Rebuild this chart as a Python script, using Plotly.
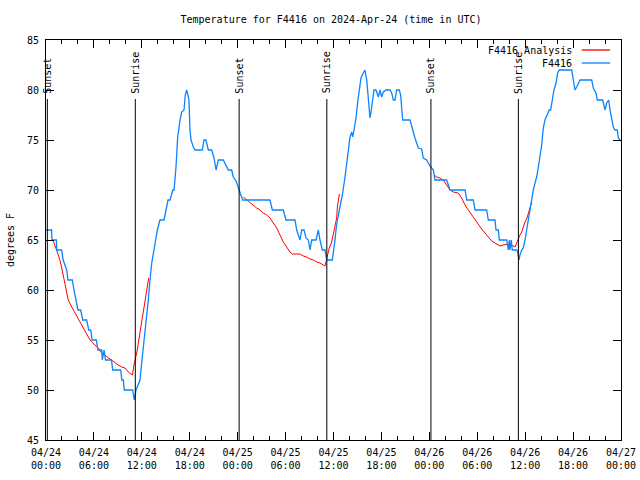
import pandas as pd
import plotly.graph_objects as go

# ---- data (hours since 2024-04-24 00:00 UTC, temperature F) ----
obs_hours = [0.0, 0.7, 0.75, 1.3, 1.35, 1.95, 2.15, 2.6, 2.75, 3.3, 3.5, 3.75, 4.0, 4.35, 4.6, 5.09,
             5.35, 5.6, 5.78, 6.3, 6.5, 6.98, 7.05, 7.27, 7.45, 8.2, 8.35, 9.35, 9.5, 9.68, 9.8, 10.85,
             11.06, 11.27, 11.77, 11.98, 12.31, 12.52, 12.81, 13.02, 13.24, 13.52, 13.94, 14.27, 14.78,
             15.03, 15.28, 15.53, 15.87, 16.03, 16.28, 16.49, 16.62, 16.78, 16.99, 17.28, 17.44, 17.62,
             17.74, 17.9, 18.03, 18.16, 18.45, 18.66, 19.57, 19.78, 20.03, 20.32, 20.75, 20.87, 21.04,
             21.29, 21.58, 22.2, 22.54, 22.83, 23.25, 23.45, 23.79, 24.08, 24.38, 24.63, 28.05, 28.34,
             29.71, 30.05, 31.18, 31.39, 31.59, 31.8, 32.02, 32.31, 32.56, 32.85, 33.06, 33.27, 33.81,
             34.1, 34.31, 34.6, 34.94, 35.15, 35.85, 35.98, 36.19, 36.31, 36.48, 36.81, 37.15, 37.44,
             37.65, 37.85, 38.07, 38.28, 38.4, 38.57, 38.82, 39.03, 39.23, 39.44, 39.73, 39.94, 40.16,
             40.36, 40.57, 40.7, 40.91, 41.07, 41.32, 41.61, 41.82, 42.03, 42.24, 42.57, 43.07, 43.29,
             43.49, 43.7, 43.91, 44.24, 44.41, 44.54, 44.66, 45.58, 45.91, 46.2, 46.62, 47.04, 47.24,
             47.66, 47.87, 48.08, 48.5, 48.71, 50.17, 50.38, 50.59, 52.47, 52.68, 53.51, 53.72, 55.18,
             55.38, 56.22, 56.35, 56.64, 56.76, 57.69, 57.89, 58.02, 58.1, 58.26, 58.39, 58.94, 59.06,
             59.23, 59.35, 59.57, 59.77, 59.98, 60.19, 60.39, 60.6, 60.82, 61.02, 61.23, 61.44, 61.65,
             61.86, 62.07, 62.27, 62.48, 62.69, 63.02, 63.19, 63.4, 63.61, 63.86, 64.07, 64.27, 65.83,
             66.03, 66.24, 66.45, 66.87, 68.33, 68.53, 68.87, 69.03, 69.71, 70.0, 70.21, 70.46, 70.62,
             70.83, 71.04, 71.25, 71.54, 71.67, 71.87]
obs_temp = [66, 66, 65, 65, 64, 64, 63, 62, 61, 61, 60, 59, 58, 58, 57, 57,
            56, 56, 55, 55, 54, 54, 53, 54, 53, 53, 52, 52, 51, 51, 50, 50,
            49, 50, 51, 52.7, 55, 57, 59, 61, 62.7, 64, 66, 67, 67,
            68, 69, 69, 70, 70, 72.3, 75.3, 76.3, 77, 77.8, 78, 79.5, 80,
            79.6, 79, 76, 75, 74.3, 74, 74, 75, 75, 74, 74, 73.7, 73.2,
            72, 73, 73, 72.5, 72, 72, 71.3, 70.9, 70.3, 69.7, 69, 69, 68,
            68, 67, 67, 66, 65.5, 65, 66, 66, 65.2, 65, 64, 65, 65,
            66, 65, 64, 64, 63, 63, 63.7, 65, 66, 67, 68.3, 69.7, 71.3,
            72.7, 73.7, 75.3, 75.8, 75.3, 76, 77.2, 78.8, 80.3, 81.2, 81.7, 82, 81,
            79, 77.2, 77.8, 79, 80, 80, 79.3, 80, 79.3, 79.8, 80, 80, 79.7,
            79, 79, 80, 80, 79.5, 78, 77, 77, 76, 75.2, 74.2, 74.1, 73.2,
            73, 72.7, 72.4, 72, 71, 71, 70.5, 70, 70, 69, 69, 68, 68,
            67, 67, 66, 66, 65, 65, 64, 65, 64, 65, 64, 64, 63.8,
            63, 63.5, 64, 64.2, 65, 66, 67, 68.2, 69, 70, 70.7, 71.3, 72.3,
            73.5, 74.5, 76.2, 77, 77.4, 78, 78, 79, 80, 80.7, 81.7, 82, 82,
            81, 80, 80.3, 81, 81, 80.2, 79.7, 79, 79, 78, 78.7, 79, 78,
            77.2, 76.3, 76, 76, 75.2, 75]

ana1_hours = [0.84, 1.34, 1.67, 1.97, 2.25, 2.59, 2.79, 3.22, 3.63, 4.04, 4.47, 4.88, 5.3, 5.72, 6.14,
              6.55, 6.97, 7.39, 7.8, 8.23, 8.85, 9.48, 9.89, 10.31, 10.81, 10.93, 11.06, 11.36, 11.56,
              11.77, 11.98, 12.27, 12.48, 12.68, 12.86]
ana1_temp = [65.07, 64, 63.2, 62.2, 61, 59.7, 59, 58.3, 57.7, 57, 56.5, 55.8, 55.3, 54.8, 54.5,
             54.2, 53.7, 53.5, 53.2, 53, 52.6, 52.3, 52.2, 51.8, 51.5, 52.2, 52.7, 53.7, 54.7,
             55.7, 57, 58.3, 59.5, 60.3, 61.2]
ana2_hours = [24.71, 25.13, 25.54, 25.96, 26.38, 26.8, 27.21, 27.64, 28.05, 28.46, 28.89, 29.3, 29.71,
              30.14, 30.55, 30.84, 31.8, 32.22, 32.64, 33.06, 33.47, 33.9, 34.31, 34.72, 34.94, 35.06,
              35.22, 35.47, 35.77, 35.98, 36.19, 36.4, 36.48, 36.73]
ana2_temp = [69.3, 69, 68.8, 68.5, 68.2, 68, 67.7, 67.5, 67.2, 66.7, 66.2, 65.5, 64.8,
             64.3, 63.8, 63.6, 63.6, 63.4, 63.3, 63.1, 63, 62.8, 62.7, 62.5, 62.4, 62.8,
             63.5, 64.2, 64.8, 65.7, 66.5, 67.2, 68.3, 69.6]
ana3_hours = [48.58, 48.92, 49.34, 49.75, 50.17, 50.59, 51.0, 51.63, 52.05, 52.47, 52.88, 53.31, 53.72,
              54.13, 54.56, 54.97, 55.38, 55.81, 56.22, 56.64, 56.85, 57.26, 57.89, 58.31, 58.73, 58.94,
              59.14, 59.35, 59.57, 59.77, 59.98, 60.19, 60.82]
ana3_temp = [71.5, 71.3, 71.2, 71, 70.5, 70, 69.8, 69.7, 69.2, 68.5, 68, 67.5, 67,
             66.5, 66.1, 65.7, 65.3, 64.9, 64.7, 64.5, 64.4, 64.5, 64.6, 64.5, 64.3, 64.7,
             65.2, 65.5, 65.8, 66.3, 66.8, 67.1, 68.8]

event_names = ["Sunset", "Sunrise", "Sunset", "Sunrise", "Sunset", "Sunrise"]
event_times = ["2024-04-24 00:10", "2024-04-24 11:11", "2024-04-25 00:11",
               "2024-04-25 11:10", "2024-04-26 00:12", "2024-04-26 11:09"]

base = pd.Timestamp("2024-04-24 00:00")
def to_time(h):
    return base + pd.to_timedelta(h, unit="h")

FONT = "DejaVu Sans Mono"
RED = "#ff0000"
BLUE = "#0a84ff"

fig = go.Figure()
ax = list(to_time(ana1_hours)) + [None] + list(to_time(ana2_hours)) + [None] + list(to_time(ana3_hours))
ay = ana1_temp + [None] + ana2_temp + [None] + ana3_temp
fig.add_trace(go.Scatter(x=ax, y=ay, mode="lines", name="F4416 Analysis",
                         line=dict(color=RED, width=1), connectgaps=False))
fig.add_trace(go.Scatter(x=to_time(obs_hours), y=obs_temp, mode="lines", name="F4416",
                         line=dict(color=BLUE, width=1.3)))

for name, t in zip(event_names, event_times):
    fig.add_shape(type="line", xref="x", yref="y", x0=t, x1=t, y0=45, y1=79.1,
                  line=dict(color="black", width=1))
    fig.add_annotation(x=t, y=79.45, xref="x", yref="y", text=name, textangle=-90,
                       showarrow=False, xanchor="center", yanchor="bottom",
                       font=dict(family=FONT, size=10, color="black"))

leg = [("F4416 Analysis", RED, 0.975), ("F4416", BLUE, 0.9425)]
for txt, col, yy in leg:
    fig.add_annotation(x=0.918, y=yy, xref="paper", yref="paper", text=txt, showarrow=False,
                       xanchor="right", yanchor="middle", font=dict(family=FONT, size=10, color="black"))
    fig.add_shape(type="line", xref="paper", yref="paper", x0=0.9317, x1=0.981, y0=yy, y1=yy,
                  line=dict(color=col, width=1.3))

fig.update_layout(
    width=640, height=480,
    margin=dict(l=46, r=19, t=40, b=40, autoexpand=False),
    paper_bgcolor="white", plot_bgcolor="white",
    showlegend=False,
    title=dict(text="Temperature for F4416 on 2024-Apr-24 (time in UTC)", x=331 / 640, xanchor="center",
               xref="container", yref="container",
               y=1 - 19 / 480, yanchor="middle", font=dict(family=FONT, size=10, color="black")),
    font=dict(family=FONT, size=10, color="black"),
)
fig.update_xaxes(range=[base, base + pd.Timedelta(hours=72)], type="date", automargin=False,
                 dtick=6 * 3600 * 1000, tick0=base, tickformat="%m/%d<br>%H:%M",
                 showgrid=False, zeroline=False, showline=True, linecolor="black", linewidth=1,
                 mirror="ticks", ticks="inside", ticklen=8, tickcolor="black", ticklabelstandoff=3,
                 minor=dict(dtick=2 * 3600 * 1000, ticks="inside", ticklen=4, tickcolor="black", showgrid=False),
                 tickfont=dict(family=FONT, size=10))
fig.update_yaxes(range=[45, 85], dtick=5, showgrid=False, zeroline=False, showline=True, automargin=False,
                 linecolor="black", linewidth=1, mirror="ticks", ticks="inside", ticklen=8,
                 tickcolor="black", tickfont=dict(family=FONT, size=10), ticklabelstandoff=4,
                 title=dict(text="degrees F", font=dict(family=FONT, size=10), standoff=10))

fig.write_html("out.html", config={"displayModeBar": False},
               post_script="document.body.style.margin='0';document.body.style.overflow='hidden';")
